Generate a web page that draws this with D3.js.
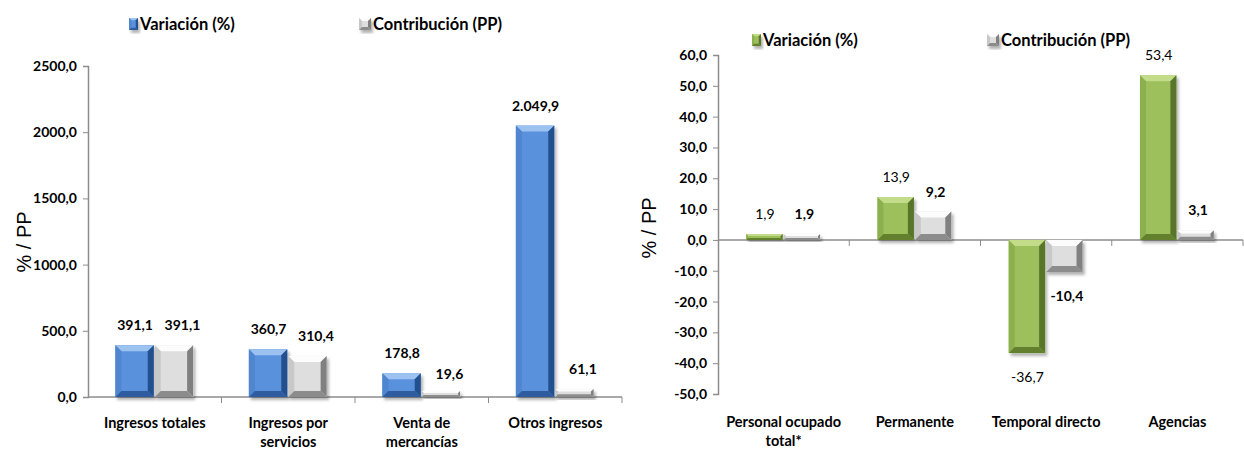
<!DOCTYPE html>
<html>
<head>
<meta charset="utf-8">
<script src="https://cdn.jsdelivr.net/npm/d3@7"></script>
<style>
  body { margin: 0; background: #fff; }
  svg text { font-family: Lato, "Open Sans", sans-serif; fill: #000; }
</style>
</head>
<body>
<div id="chart"></div>
<script>
// data
var leftCategories = [["Ingresos totales"], ["Ingresos por", "servicios"], ["Venta de", "mercancías"], ["Otros ingresos"]];
var leftVariacion = [391.1, 360.7, 178.8, 2049.9];
var leftContribucion = [391.1, 310.4, 19.6, 61.1];
var leftTicks = [0, 500, 1000, 1500, 2000, 2500];

var rightCategories = [["Personal ocupado", "total*"], ["Permanente"], ["Temporal directo"], ["Agencias"]];
var rightVariacion = [1.9, 13.9, -36.7, 53.4];
var rightContribucion = [1.9, 9.2, -10.4, 3.1];
var rightTicks = [-50, -40, -30, -20, -10, 0, 10, 20, 30, 40, 50, 60];

var seriesNames = ["Variación (%)", "Contribución (PP)"];

var es = d3.formatLocale({ decimal: ",", thousands: ".", grouping: [3], currency: ["", ""], minus: "-" });
var fmtTick = es.format(".1f");
var fmtLabel = es.format(",.1f");

var palettes = {
  blue:  { top: "#9cc2ef", left: "#4f86cf", right: "#24508e", bottom: "#2d5c9e", face: "#5a91dc" },
  green: { top: "#c2dc8a", left: "#8db04f", right: "#58742b", bottom: "#62802f", face: "#9dc05c" },
  gray:  { top: "#fcfcfc", left: "#c8c8c8", right: "#808080", bottom: "#8c8c8c", face: "#dedede" }
};

var svg = d3.select("#chart").append("svg")
  .attr("width", 1244).attr("height", 452);

var defs = svg.append("defs");
var shadow = defs.append("filter").attr("id", "shadow")
  .attr("x", "-20%").attr("y", "-20%").attr("width", "150%").attr("height", "150%");
shadow.append("feDropShadow")
  .attr("dx", 2).attr("dy", 3).attr("stdDeviation", 1.6)
  .attr("flood-color", "#000").attr("flood-opacity", 0.3);

// bevelled bar, like the excel 3d look
function bar3d(g, x, y, w, h, pal) {
  var b = g.append("g").attr("filter", "url(#shadow)");
  var i = Math.min(6, h / 3, w / 4);
  b.append("rect").attr("x", x).attr("y", y).attr("width", w).attr("height", h).attr("fill", pal.face);
  b.append("polygon").attr("fill", pal.top)
    .attr("points", [[x, y], [x + w, y], [x + w - i, y + i], [x + i, y + i]].join(" "));
  b.append("polygon").attr("fill", pal.left)
    .attr("points", [[x, y], [x + i, y + i], [x + i, y + h - i], [x, y + h]].join(" "));
  b.append("polygon").attr("fill", pal.right)
    .attr("points", [[x + w, y], [x + w, y + h], [x + w - i, y + h - i], [x + w - i, y + i]].join(" "));
  b.append("polygon").attr("fill", pal.bottom)
    .attr("points", [[x, y + h], [x + i, y + h - i], [x + w - i, y + h - i], [x + w, y + h]].join(" "));
}

function drawChart(opts) {
  var g = svg.append("g");

  var y = d3.scaleLinear().domain(opts.yDomain).range([opts.bottom, opts.top]);
  var x0 = d3.scaleBand().domain(d3.range(opts.categories.length))
    .range([opts.left, opts.right]).paddingInner(0).paddingOuter(0);
  var groupW = x0.bandwidth() * opts.groupFrac;
  var x1 = d3.scaleBand().domain([0, 1])
    .range([(x0.bandwidth() - groupW) / 2, (x0.bandwidth() + groupW) / 2]).padding(0);

  // y axis
  var yAxis = d3.axisLeft(y).tickValues(opts.ticks).tickFormat(fmtTick).tickSize(5).tickPadding(6);
  var ya = g.append("g").attr("transform", "translate(" + opts.left + ",0)").call(yAxis);
  ya.select(".domain").attr("stroke", "#8c8c8c").attr("stroke-width", 1.5);
  ya.selectAll(".tick line").attr("stroke", "#8c8c8c");
  ya.selectAll(".tick text").style("font-size", "14px").style("font-weight", "bold")
    .style("font-family", "Lato, sans-serif").attr("fill", "#000");

  // category axis at zero
  var zeroY = y(0);
  var xa = g.append("g").attr("transform", "translate(0," + zeroY + ")");
  xa.append("line").attr("x1", opts.left).attr("x2", opts.right)
    .attr("stroke", "#8c8c8c").attr("stroke-width", 1.5);
  xa.selectAll(".ctick").data(d3.range(1, opts.categories.length + 1)).enter()
    .append("line").attr("class", "ctick")
    .attr("x1", function (d) { return opts.left + d * x0.bandwidth(); })
    .attr("x2", function (d) { return opts.left + d * x0.bandwidth(); })
    .attr("y1", 0).attr("y2", 6).attr("stroke", "#8c8c8c");

  // category labels
  opts.categories.forEach(function (lines, ci) {
    var t = g.append("text")
      .attr("x", x0(ci) + x0.bandwidth() / 2)
      .attr("y", opts.labelY)
      .attr("text-anchor", "middle")
      .style("font-size", "14.5px").style("font-weight", "bold");
    lines.forEach(function (ln, li) {
      t.append("tspan").attr("x", x0(ci) + x0.bandwidth() / 2)
        .attr("dy", li === 0 ? 0 : 19).text(ln);
    });
  });

  // bars
  var series = [opts.s1, opts.s2];
  var pals = [opts.pal1, palettes.gray];
  series.forEach(function (vals, si) {
    vals.forEach(function (v, ci) {
      var bx = x0(ci) + x1(si);
      var bw = x1.bandwidth() - 1;
      var top = y(Math.max(0, v)), bot = y(Math.min(0, v));
      var h = Math.max(si === 1 ? 6 : 3, bot - top);
      if (v >= 0) top = bot - h;
      bar3d(g, bx, top, bw, h, pals[si]);
    });
  });

  // value labels
  series.forEach(function (vals, si) {
    vals.forEach(function (v, ci) {
      var cx = x0(ci) + x1(si) + x1.bandwidth() / 2 + opts.labelShift[si];
      var ly = v >= 0 ? y(v) - 15 : y(v) + 29;
      if (si === 1 && v >= 0) ly = Math.min(ly, y(0) - 18);
      g.append("text").attr("x", cx).attr("y", ly).attr("text-anchor", "middle")
        .style("font-size", "14px")
        .style("font-weight", opts.labelBold[si] ? "bold" : "normal")
        .text(fmtLabel(v));
    });
  });

  // y title
  g.append("text")
    .attr("transform", "translate(" + opts.titleX + "," + opts.titleY + ") rotate(-90)")
    .attr("text-anchor", "middle")
    .style("font-family", "'Liberation Sans', Arial, sans-serif")
    .style("font-size", "20px")
    .text("% / PP");

  // legend
  var lg = g.append("g");
  [0, 1].forEach(function (si) {
    var lx = opts.legendX[si], ly = opts.legendY;
    var iw = si === 0 ? 9 : 12;
    bar3d(lg, lx, ly - 12, iw, 12, pals[si]);
    lg.append("text").attr("x", lx + iw + 2).attr("y", ly)
      .style("font-size", "16.5px").style("font-weight", "bold")
      .text(seriesNames[si]);
  });
}

drawChart({
  categories: leftCategories, s1: leftVariacion, s2: leftContribucion, ticks: leftTicks,
  yDomain: [0, 2500], top: 66, bottom: 397, left: 88, right: 622, groupFrac: 0.59,
  pal1: palettes.blue, labelBold: [true, true], labelShift: [0, 8],
  labelY: 428, titleX: 31, titleY: 242,
  legendX: [129, 359], legendY: 30
});

drawChart({
  categories: rightCategories, s1: rightVariacion, s2: rightContribucion, ticks: rightTicks,
  yDomain: [-50, 60], top: 55, bottom: 394, left: 718, right: 1243, groupFrac: 0.57,
  pal1: palettes.green, labelBold: [false, true], labelShift: [0, 2],
  labelY: 427, titleX: 656, titleY: 228,
  legendX: [752, 987], legendY: 46
});
</script>
</body>
</html>
